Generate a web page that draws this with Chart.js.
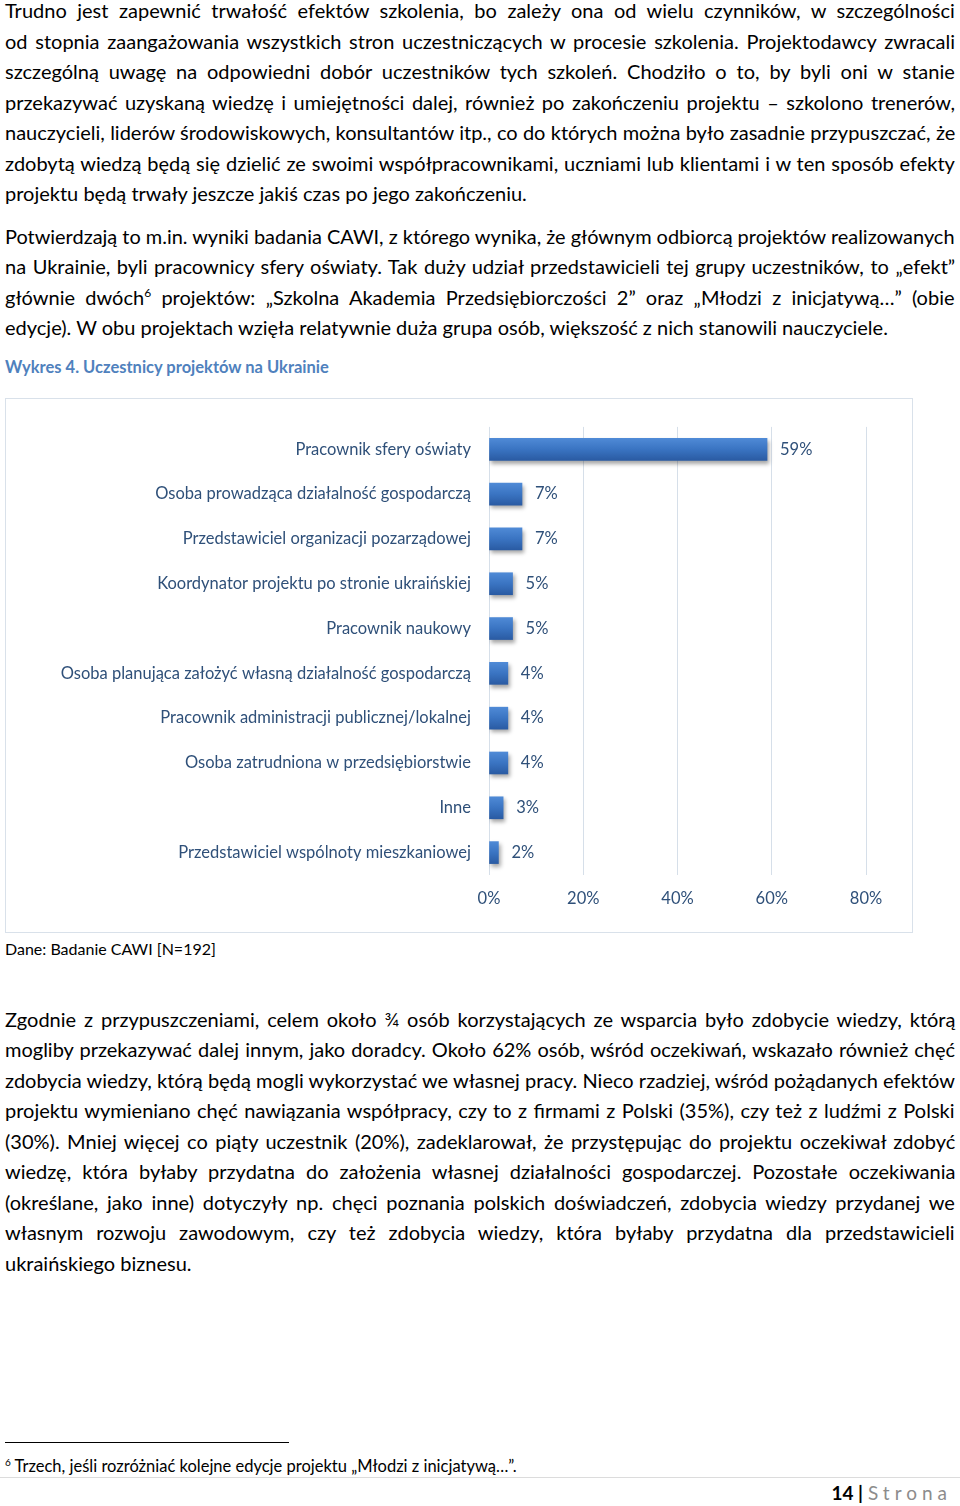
<!DOCTYPE html>
<html lang="pl">
<head>
<meta charset="utf-8">
<script src="https://cdn.jsdelivr.net/npm/chart.js@4/dist/chart.umd.min.js"></script>
<style>
  html, body { margin: 0; padding: 0; background: #fff; }
  body { width: 960px; height: 1506px; position: relative; overflow: hidden;
    font-family: Lato, "Open Sans", sans-serif; color: #000; }
  .ln { position: absolute; left: 5px; height: 30px; line-height: 30px; font-size: 20px;
    white-space: nowrap; transform-origin: 0 50%; }
  sup { font-size: 12px; line-height: 0; vertical-align: 8px; }
  #title { position: absolute; left: 5px; top: 357px; font-size: 16.5px; font-weight: bold; color: #4f81bd; }
  #box { position: absolute; left: 5px; top: 398px; width: 906px; height: 533px; border: 1px solid #d9e1ea; }
  #chart { position: absolute; left: 6px; top: 399px; }
  #src { position: absolute; left: 5px; top: 939px; font-size: 16px; }
  #fnline { position: absolute; left: 5px; top: 1442px; width: 284px; height: 1px; background: #000; }
  #fn { position: absolute; left: 5px; top: 1456px; font-size: 16.5px; white-space: nowrap; }
  #fn sup { font-size: 10px; vertical-align: 6px; }
  #pgline { position: absolute; left: 0; top: 1477px; width: 960px; height: 1px; background: #dcdcdc; }
  #pg { position: absolute; right: 8px; top: 1481px; font-size: 19px; white-space: nowrap; }
  #pg b { color: #000; }
  #pg span { color: #8c8c8c; letter-spacing: 5px; }
</style>
</head>
<body>

<div class="ln j" style="top:-5px">Trudno jest zapewnić trwałość efektów szkolenia, bo zależy ona od wielu czynników, w szczególności</div>
<div class="ln j" style="top:26px">od stopnia zaangażowania wszystkich stron uczestniczących w procesie szkolenia. Projektodawcy zwracali</div>
<div class="ln j" style="top:56px">szczególną uwagę na odpowiedni dobór uczestników tych szkoleń. Chodziło o to, by byli oni w stanie</div>
<div class="ln j" style="top:87px">przekazywać uzyskaną wiedzę i umiejętności dalej, również po zakończeniu projektu – szkolono trenerów,</div>
<div class="ln j" style="top:117px">nauczycieli, liderów środowiskowych, konsultantów itp., co do których można było zasadnie przypuszczać, że</div>
<div class="ln j" style="top:148px">zdobytą wiedzą będą się dzielić ze swoimi współpracownikami, uczniami lub klientami i w ten sposób efekty</div>
<div class="ln" style="top:178px">projektu będą trwały jeszcze jakiś czas po jego zakończeniu.</div>

<div class="ln j" style="top:221px">Potwierdzają to m.in. wyniki badania CAWI, z którego wynika, że głównym odbiorcą projektów realizowanych</div>
<div class="ln j" style="top:251px">na Ukrainie, byli pracownicy sfery oświaty. Tak duży udział przedstawicieli tej grupy uczestników, to „efekt”</div>
<div class="ln j" style="top:282px">głównie dwóch<sup>6</sup> projektów: „Szkolna Akademia Przedsiębiorczości 2” oraz „Młodzi z inicjatywą…” (obie</div>
<div class="ln" style="top:312px">edycje). W obu projektach wzięła relatywnie duża grupa osób, większość z nich stanowili nauczyciele.</div>

<div id="title">Wykres 4. Uczestnicy projektów na Ukrainie</div>
<div id="box"></div>
<canvas id="chart" width="906" height="533"></canvas>
<div id="src">Dane: Badanie CAWI [N=192]</div>

<div class="ln j" style="top:1004px">Zgodnie z przypuszczeniami, celem około ¾ osób korzystających ze wsparcia było zdobycie wiedzy, którą</div>
<div class="ln j" style="top:1034px">mogliby przekazywać dalej innym, jako doradcy. Około 62% osób, wśród oczekiwań, wskazało również chęć</div>
<div class="ln j" style="top:1065px">zdobycia wiedzy, którą będą mogli wykorzystać we własnej pracy. Nieco rzadziej, wśród pożądanych efektów</div>
<div class="ln j" style="top:1095px">projektu wymieniano chęć nawiązania współpracy, czy to z firmami z Polski (35%), czy też z ludźmi z Polski</div>
<div class="ln j" style="top:1126px">(30%). Mniej więcej co piąty uczestnik (20%), zadeklarował, że przystępując do projektu oczekiwał zdobyć</div>
<div class="ln j" style="top:1156px">wiedzę, która byłaby przydatna do założenia własnej działalności gospodarczej. Pozostałe oczekiwania</div>
<div class="ln j" style="top:1187px">(określane, jako inne) dotyczyły np. chęci poznania polskich doświadczeń, zdobycia wiedzy przydanej we</div>
<div class="ln j" style="top:1217px">własnym rozwoju zawodowym, czy też zdobycia wiedzy, która byłaby przydatna dla przedstawicieli</div>
<div class="ln" style="top:1248px">ukraińskiego biznesu.</div>

<div id="fnline"></div>
<div id="fn"><sup>6</sup> Trzech, jeśli rozróżniać kolejne edycje projektu „Młodzi z inicjatywą…”.</div>
<div id="pgline"></div>
<div id="pg"><b>14 |</b> <span>Strona</span></div>

<script>
// justify each text line to the 950px column (squeeze if too wide)
const colWidth = 950;
document.querySelectorAll(".ln").forEach((el) => {
  const w = el.scrollWidth;
  if (el.classList.contains("j")) {
    const gaps = (el.textContent.match(/ /g) || []).length;
    if (w < colWidth && gaps) el.style.wordSpacing = (colWidth - w) / gaps + "px";
    else if (w > colWidth) el.style.transform = "scaleX(" + colWidth / w + ")";
  } else if (w > colWidth) {
    el.style.transform = "scaleX(" + colWidth / w + ")";
  }
});

// categories and values
const categories = [
  "Pracownik sfery oświaty",
  "Osoba prowadząca działalność gospodarczą",
  "Przedstawiciel organizacji pozarządowej",
  "Koordynator projektu po stronie ukraińskiej",
  "Pracownik naukowy",
  "Osoba planująca założyć własną działalność gospodarczą",
  "Pracownik administracji publicznej/lokalnej",
  "Osoba zatrudniona w przedsiębiorstwie",
  "Inne",
  "Przedstawiciel wspólnoty mieszkaniowej",
];
const values = [59, 7, 7, 5, 5, 4, 4, 4, 3, 2];
const xTicks = [0, 20, 40, 60, 80];

const fontFamily = 'Lato, "Open Sans", sans-serif';
const textColor = "#2f5079";

// bar gradient, top lighter -> bottom darker, per bar
const barFill = (context) => {
  const chart = context.chart;
  const yScale = chart.scales && chart.scales.y;
  if (!yScale || context.dataIndex === undefined) return "#3a72bf";
  const yc = yScale.getPixelForValue(context.dataIndex);
  if (!Number.isFinite(yc)) return "#3a72bf";
  const g = chart.ctx.createLinearGradient(0, yc - 11, 0, yc + 11);
  g.addColorStop(0, "#4f8ad6");
  g.addColorStop(0.5, "#3a74c2");
  g.addColorStop(1, "#2a5ba3");
  return g;
};

// soft shadow under bars
const barShadow = {
  id: "barShadow",
  beforeDatasetsDraw(chart) {
    const ctx = chart.ctx;
    ctx.save();
    ctx.shadowColor = "rgba(0,0,0,0.35)";
    ctx.shadowBlur = 4;
    ctx.shadowOffsetX = 2;
    ctx.shadowOffsetY = 3;
  },
  afterDatasetsDraw(chart) {
    chart.ctx.restore();
  },
};

// value labels after each bar
const valueLabels = {
  id: "valueLabels",
  afterDraw(chart) {
    const ctx = chart.ctx;
    const meta = chart.getDatasetMeta(0);
    ctx.save();
    ctx.font = "16.5px " + fontFamily;
    ctx.fillStyle = textColor;
    ctx.textAlign = "left";
    ctx.textBaseline = "middle";
    meta.data.forEach((bar, i) => {
      ctx.fillText(values[i] + "%", bar.x + 13, bar.y);
    });
    ctx.restore();
  },
};

new Chart(document.getElementById("chart"), {
  type: "bar",
  data: {
    labels: categories,
    datasets: [
      {
        data: values,
        backgroundColor: barFill,
        borderWidth: 0,
        barThickness: 22,
      },
    ],
  },
  options: {
    indexAxis: "y",
    responsive: false,
    animation: false,
    devicePixelRatio: 1,
    layout: { padding: { top: 25, right: 46, left: 0, bottom: 0 } },
    plugins: { legend: { display: false }, tooltip: { enabled: false } },
    scales: {
      x: {
        min: 0,
        max: 80,
        afterBuildTicks: (scale) => {
          scale.ticks = xTicks.map((v) => ({ value: v }));
        },
        afterFit: (scale) => {
          scale.height = 57;
        },
        ticks: {
          callback: (v) => v + "%",
          color: textColor,
          font: { size: 16.5, family: fontFamily },
          padding: 14,
        },
        grid: { color: "#d6dfe9", drawTicks: false },
        border: { display: false },
      },
      y: {
        afterFit: (scale) => {
          scale.width = 483;
        },
        ticks: {
          color: textColor,
          font: { size: 16.5, family: fontFamily },
          padding: 18,
        },
        grid: { display: false, drawTicks: false },
        border: { display: false },
      },
    },
  },
  plugins: [barShadow, valueLabels],
});
</script>
</body>
</html>
